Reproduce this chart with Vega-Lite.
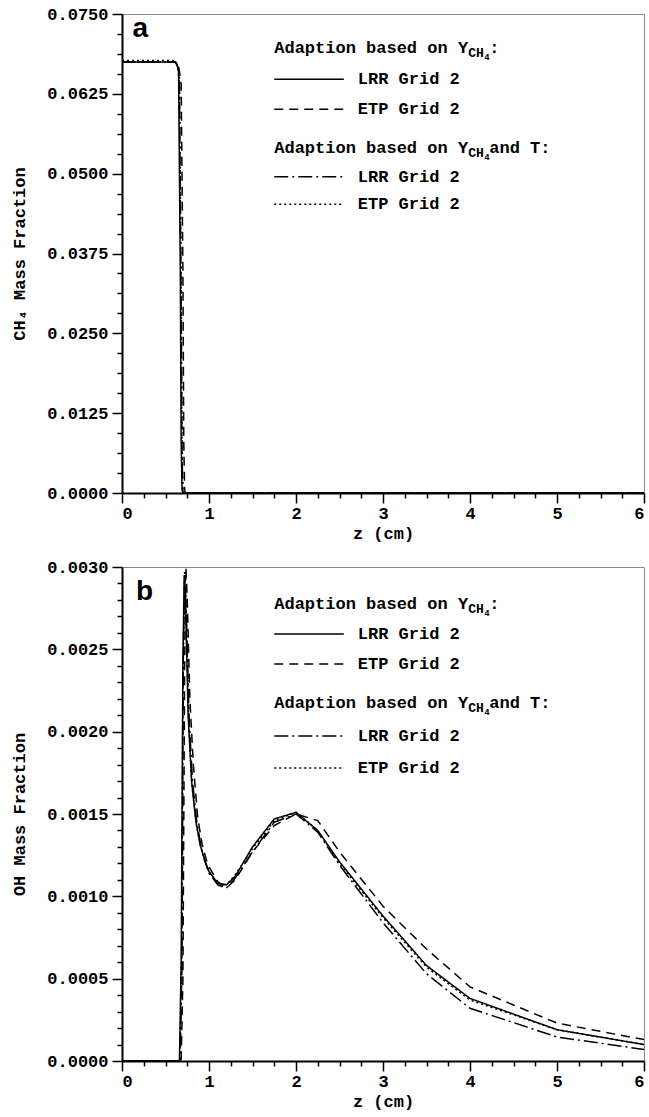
{
  "$schema": "https://vega.github.io/schema/vega-lite/v6.json",
  "padding": {"left": 10, "top": 4, "right": 2, "bottom": 2},
  "background": "white",
  "spacing": 15,
  "config": {
    "view": {"stroke": "#8a8a8a", "strokeWidth": 1},
    "text": {"font": "Liberation Mono", "fontWeight": "bold", "color": "black"},
    "axis": {
      "grid": false,
      "labelFont": "Liberation Mono", "labelFontWeight": "bold", "labelFontSize": 17, "labelColor": "black",
      "titleFont": "Liberation Mono", "titleFontWeight": "bold", "titleFontSize": 17, "titleColor": "black",
      "domainColor": "black", "domainWidth": 2, "tickColor": "black", "tickWidth": 1.5
    }
  },
  "datasets": {
    "ch4": [
      {"s": "LRR_Y", "z": 0, "v": 0.0675}, {"s": "LRR_Y", "z": 0.6, "v": 0.0675}, {"s": "LRR_Y", "z": 0.63, "v": 0.0672}, {"s": "LRR_Y", "z": 0.65, "v": 0.066}, {"s": "LRR_Y", "z": 0.67, "v": 0.035}, {"s": "LRR_Y", "z": 0.68, "v": 0.008}, {"s": "LRR_Y", "z": 0.69, "v": 0.0005}, {"s": "LRR_Y", "z": 0.7, "v": 0}, {"s": "LRR_Y", "z": 6, "v": 0},
      {"s": "ETP_Y", "z": 0, "v": 0.0675}, {"s": "ETP_Y", "z": 0.62, "v": 0.0675}, {"s": "ETP_Y", "z": 0.65, "v": 0.067}, {"s": "ETP_Y", "z": 0.68, "v": 0.064}, {"s": "ETP_Y", "z": 0.7, "v": 0.035}, {"s": "ETP_Y", "z": 0.71, "v": 0.008}, {"s": "ETP_Y", "z": 0.72, "v": 0.0004}, {"s": "ETP_Y", "z": 0.73, "v": 0}, {"s": "ETP_Y", "z": 6, "v": 0},
      {"s": "LRR_YT", "z": 0, "v": 0.0675}, {"s": "LRR_YT", "z": 0.61, "v": 0.0675}, {"s": "LRR_YT", "z": 0.64, "v": 0.0668}, {"s": "LRR_YT", "z": 0.66, "v": 0.064}, {"s": "LRR_YT", "z": 0.68, "v": 0.03}, {"s": "LRR_YT", "z": 0.69, "v": 0.006}, {"s": "LRR_YT", "z": 0.7, "v": 0}, {"s": "LRR_YT", "z": 6, "v": 0},
      {"s": "ETP_YT", "z": 0, "v": 0.0677}, {"s": "ETP_YT", "z": 0.61, "v": 0.0677}, {"s": "ETP_YT", "z": 0.64, "v": 0.067}, {"s": "ETP_YT", "z": 0.66, "v": 0.065}, {"s": "ETP_YT", "z": 0.68, "v": 0.032}, {"s": "ETP_YT", "z": 0.69, "v": 0.006}, {"s": "ETP_YT", "z": 0.7, "v": 0}, {"s": "ETP_YT", "z": 6, "v": 0}
    ],
    "oh": [
      {"s": "LRR_Y", "z": 0, "v": 0}, {"s": "LRR_Y", "z": 0.66, "v": 0}, {"s": "LRR_Y", "z": 0.68, "v": 0.0006}, {"s": "LRR_Y", "z": 0.7, "v": 0.0024}, {"s": "LRR_Y", "z": 0.715, "v": 0.00295}, {"s": "LRR_Y", "z": 0.73, "v": 0.0028}, {"s": "LRR_Y", "z": 0.76, "v": 0.0021}, {"s": "LRR_Y", "z": 0.8, "v": 0.0017}, {"s": "LRR_Y", "z": 0.85, "v": 0.00145}, {"s": "LRR_Y", "z": 0.9, "v": 0.00131}, {"s": "LRR_Y", "z": 0.95, "v": 0.00122}, {"s": "LRR_Y", "z": 1.0, "v": 0.00115}, {"s": "LRR_Y", "z": 1.1, "v": 0.00108}, {"s": "LRR_Y", "z": 1.2, "v": 0.00107}, {"s": "LRR_Y", "z": 1.3, "v": 0.00112}, {"s": "LRR_Y", "z": 1.5, "v": 0.0013}, {"s": "LRR_Y", "z": 1.75, "v": 0.00147}, {"s": "LRR_Y", "z": 2.0, "v": 0.00151}, {"s": "LRR_Y", "z": 2.25, "v": 0.0014}, {"s": "LRR_Y", "z": 2.5, "v": 0.00121}, {"s": "LRR_Y", "z": 3.0, "v": 0.00088}, {"s": "LRR_Y", "z": 3.5, "v": 0.00058}, {"s": "LRR_Y", "z": 4.0, "v": 0.00038}, {"s": "LRR_Y", "z": 5.0, "v": 0.00019}, {"s": "LRR_Y", "z": 6.0, "v": 0.0001},
      {"s": "ETP_Y", "z": 0, "v": 0}, {"s": "ETP_Y", "z": 0.68, "v": 0}, {"s": "ETP_Y", "z": 0.7, "v": 0.0005}, {"s": "ETP_Y", "z": 0.72, "v": 0.0024}, {"s": "ETP_Y", "z": 0.735, "v": 0.003}, {"s": "ETP_Y", "z": 0.75, "v": 0.0028}, {"s": "ETP_Y", "z": 0.78, "v": 0.0022}, {"s": "ETP_Y", "z": 0.82, "v": 0.0018}, {"s": "ETP_Y", "z": 0.87, "v": 0.00148}, {"s": "ETP_Y", "z": 0.92, "v": 0.00132}, {"s": "ETP_Y", "z": 0.97, "v": 0.00122}, {"s": "ETP_Y", "z": 1.0, "v": 0.00118}, {"s": "ETP_Y", "z": 1.1, "v": 0.00109}, {"s": "ETP_Y", "z": 1.2, "v": 0.00105}, {"s": "ETP_Y", "z": 1.3, "v": 0.0011}, {"s": "ETP_Y", "z": 1.5, "v": 0.00127}, {"s": "ETP_Y", "z": 1.75, "v": 0.00143}, {"s": "ETP_Y", "z": 2.0, "v": 0.0015}, {"s": "ETP_Y", "z": 2.25, "v": 0.00146}, {"s": "ETP_Y", "z": 2.5, "v": 0.00127}, {"s": "ETP_Y", "z": 3.0, "v": 0.00094}, {"s": "ETP_Y", "z": 3.5, "v": 0.00068}, {"s": "ETP_Y", "z": 4.0, "v": 0.00045}, {"s": "ETP_Y", "z": 5.0, "v": 0.00023}, {"s": "ETP_Y", "z": 6.0, "v": 0.00013},
      {"s": "LRR_YT", "z": 0, "v": 0}, {"s": "LRR_YT", "z": 0.67, "v": 0}, {"s": "LRR_YT", "z": 0.69, "v": 0.0006}, {"s": "LRR_YT", "z": 0.705, "v": 0.0025}, {"s": "LRR_YT", "z": 0.72, "v": 0.00292}, {"s": "LRR_YT", "z": 0.74, "v": 0.0027}, {"s": "LRR_YT", "z": 0.77, "v": 0.0021}, {"s": "LRR_YT", "z": 0.81, "v": 0.0017}, {"s": "LRR_YT", "z": 0.86, "v": 0.00145}, {"s": "LRR_YT", "z": 0.91, "v": 0.0013}, {"s": "LRR_YT", "z": 0.96, "v": 0.0012}, {"s": "LRR_YT", "z": 1.0, "v": 0.00114}, {"s": "LRR_YT", "z": 1.1, "v": 0.00107}, {"s": "LRR_YT", "z": 1.2, "v": 0.00105}, {"s": "LRR_YT", "z": 1.3, "v": 0.00111}, {"s": "LRR_YT", "z": 1.5, "v": 0.00127}, {"s": "LRR_YT", "z": 1.75, "v": 0.00145}, {"s": "LRR_YT", "z": 2.0, "v": 0.0015}, {"s": "LRR_YT", "z": 2.25, "v": 0.00139}, {"s": "LRR_YT", "z": 2.5, "v": 0.00119}, {"s": "LRR_YT", "z": 3.0, "v": 0.00084}, {"s": "LRR_YT", "z": 3.5, "v": 0.00053}, {"s": "LRR_YT", "z": 4.0, "v": 0.00032}, {"s": "LRR_YT", "z": 5.0, "v": 0.000146}, {"s": "LRR_YT", "z": 6.0, "v": 0.00007},
      {"s": "ETP_YT", "z": 0, "v": 0}, {"s": "ETP_YT", "z": 0.665, "v": 0}, {"s": "ETP_YT", "z": 0.685, "v": 0.0006}, {"s": "ETP_YT", "z": 0.7, "v": 0.0023}, {"s": "ETP_YT", "z": 0.72, "v": 0.00297}, {"s": "ETP_YT", "z": 0.735, "v": 0.0028}, {"s": "ETP_YT", "z": 0.765, "v": 0.0021}, {"s": "ETP_YT", "z": 0.8, "v": 0.0017}, {"s": "ETP_YT", "z": 0.85, "v": 0.00145}, {"s": "ETP_YT", "z": 0.9, "v": 0.00131}, {"s": "ETP_YT", "z": 0.95, "v": 0.00122}, {"s": "ETP_YT", "z": 1.0, "v": 0.00115}, {"s": "ETP_YT", "z": 1.1, "v": 0.00108}, {"s": "ETP_YT", "z": 1.2, "v": 0.00107}, {"s": "ETP_YT", "z": 1.3, "v": 0.00113}, {"s": "ETP_YT", "z": 1.5, "v": 0.00129}, {"s": "ETP_YT", "z": 1.75, "v": 0.00146}, {"s": "ETP_YT", "z": 2.0, "v": 0.00151}, {"s": "ETP_YT", "z": 2.25, "v": 0.0014}, {"s": "ETP_YT", "z": 2.5, "v": 0.0012}, {"s": "ETP_YT", "z": 3.0, "v": 0.00087}, {"s": "ETP_YT", "z": 3.5, "v": 0.00057}, {"s": "ETP_YT", "z": 4.0, "v": 0.00037}, {"s": "ETP_YT", "z": 5.0, "v": 0.00019}, {"s": "ETP_YT", "z": 6.0, "v": 0.0001}
    ]
  },
  "vconcat": [
    {
      "width": 522, "height": 479,
      "resolve": {"axis": {"x": "independent", "y": "independent"}},
      "layer": [
        {"data": {"name": "ch4"}, "mark": {"type": "line", "color": "black", "strokeWidth": 1.5, "clip": true},
         "encoding": {
           "x": {"field": "z", "type": "quantitative", "scale": {"domain": [0, 6], "nice": false, "zero": false},
                 "axis": {"orient": "bottom", "values": [0, 1, 2, 3, 4, 5, 6], "format": "d", "tickSize": 10, "labelPadding": 2, "title": "z (cm)", "titlePadding": 4}},
           "y": {"field": "v", "type": "quantitative", "scale": {"domain": [0, 0.075], "nice": false},
                 "axis": {"orient": "left", "values": [0, 0.0125, 0.025, 0.0375, 0.05, 0.0625, 0.075], "format": ".4f", "tickSize": 10, "labelPadding": 4, "title": "CH₄ Mass Fraction", "titlePadding": 18}},
           "strokeDash": {"field": "s", "type": "nominal", "scale": {"domain": ["LRR_Y", "ETP_Y", "LRR_YT", "ETP_YT"], "range": [[1, 0], [9, 6], [14, 4, 2, 4], [2, 3]]}, "legend": null}
         }},
        {"data": {"name": "ch4"}, "mark": {"type": "point", "opacity": 0},
         "encoding": {
           "x": {"field": "z", "type": "quantitative", "axis": {"orient": "bottom", "values": [0.25, 0.5, 0.75, 1.25, 1.5, 1.75, 2.25, 2.5, 2.75, 3.25, 3.5, 3.75, 4.25, 4.5, 4.75, 5.25, 5.5, 5.75], "labels": false, "domain": false, "tickSize": 5, "title": null}},
           "y": {"field": "v", "type": "quantitative", "axis": {"orient": "left", "values": [0.003125, 0.00625, 0.009375, 0.015625, 0.01875, 0.021875, 0.028125, 0.03125, 0.034375, 0.040625, 0.04375, 0.046875, 0.053125, 0.05625, 0.059375, 0.065625, 0.06875, 0.071875], "labels": false, "domain": false, "tickSize": 5, "title": null}}
         }},
        {"data": {"values": [{}]}, "mark": {"type": "text", "font": "Liberation Sans", "fontSize": 28, "align": "left", "baseline": "alphabetic"},
         "encoding": {"x": {"datum": 0.12, "type": "quantitative", "axis": null}, "y": {"datum": 0.0714, "type": "quantitative", "axis": null}, "text": {"value": "a"}}},
        {"data": {"values": [{}]}, "mark": {"type": "text", "fontSize": 17, "align": "left", "baseline": "middle"},
         "encoding": {"x": {"datum": 1.75, "type": "quantitative", "axis": null}, "y": {"datum": 0.0697, "type": "quantitative", "axis": null}, "text": {"value": "Adaption based on Y"}}},
        {"data": {"values": [{}]}, "mark": {"type": "text", "fontSize": 13, "align": "left", "baseline": "middle", "dx": 194, "dy": 5},
         "encoding": {"x": {"datum": 1.75, "type": "quantitative", "axis": null}, "y": {"datum": 0.0697, "type": "quantitative", "axis": null}, "text": {"value": "CH"}}},
        {"data": {"values": [{}]}, "mark": {"type": "text", "fontSize": 9, "align": "left", "baseline": "middle", "dx": 210, "dy": 9},
         "encoding": {"x": {"datum": 1.75, "type": "quantitative", "axis": null}, "y": {"datum": 0.0697, "type": "quantitative", "axis": null}, "text": {"value": "4"}}},
        {"data": {"values": [{}]}, "mark": {"type": "text", "fontSize": 17, "align": "left", "baseline": "middle", "dx": 215},
         "encoding": {"x": {"datum": 1.75, "type": "quantitative", "axis": null}, "y": {"datum": 0.0697, "type": "quantitative", "axis": null}, "text": {"value": ":"}}},
        {"data": {"values": [{}]}, "mark": {"type": "rule", "color": "black", "strokeWidth": 1.5},
         "encoding": {"x": {"datum": 1.75, "type": "quantitative", "axis": null}, "x2": {"datum": 2.55}, "y": {"datum": 0.0648, "type": "quantitative", "axis": null}}},
        {"data": {"values": [{}]}, "mark": {"type": "text", "fontSize": 17, "align": "left", "baseline": "middle"},
         "encoding": {"x": {"datum": 2.71, "type": "quantitative", "axis": null}, "y": {"datum": 0.0648, "type": "quantitative", "axis": null}, "text": {"value": "LRR Grid 2"}}},
        {"data": {"values": [{}]}, "mark": {"type": "rule", "color": "black", "strokeWidth": 1.5, "strokeDash": [9, 6]},
         "encoding": {"x": {"datum": 1.75, "type": "quantitative", "axis": null}, "x2": {"datum": 2.55}, "y": {"datum": 0.0601, "type": "quantitative", "axis": null}}},
        {"data": {"values": [{}]}, "mark": {"type": "text", "fontSize": 17, "align": "left", "baseline": "middle"},
         "encoding": {"x": {"datum": 2.71, "type": "quantitative", "axis": null}, "y": {"datum": 0.0601, "type": "quantitative", "axis": null}, "text": {"value": "ETP Grid 2"}}},
        {"data": {"values": [{}]}, "mark": {"type": "text", "fontSize": 17, "align": "left", "baseline": "middle"},
         "encoding": {"x": {"datum": 1.75, "type": "quantitative", "axis": null}, "y": {"datum": 0.054, "type": "quantitative", "axis": null}, "text": {"value": "Adaption based on Y"}}},
        {"data": {"values": [{}]}, "mark": {"type": "text", "fontSize": 13, "align": "left", "baseline": "middle", "dx": 194, "dy": 5},
         "encoding": {"x": {"datum": 1.75, "type": "quantitative", "axis": null}, "y": {"datum": 0.054, "type": "quantitative", "axis": null}, "text": {"value": "CH"}}},
        {"data": {"values": [{}]}, "mark": {"type": "text", "fontSize": 9, "align": "left", "baseline": "middle", "dx": 210, "dy": 9},
         "encoding": {"x": {"datum": 1.75, "type": "quantitative", "axis": null}, "y": {"datum": 0.054, "type": "quantitative", "axis": null}, "text": {"value": "4"}}},
        {"data": {"values": [{}]}, "mark": {"type": "text", "fontSize": 17, "align": "left", "baseline": "middle", "dx": 215},
         "encoding": {"x": {"datum": 1.75, "type": "quantitative", "axis": null}, "y": {"datum": 0.054, "type": "quantitative", "axis": null}, "text": {"value": "and T:"}}},
        {"data": {"values": [{}]}, "mark": {"type": "rule", "color": "black", "strokeWidth": 1.5, "strokeDash": [14, 4, 2, 4]},
         "encoding": {"x": {"datum": 1.75, "type": "quantitative", "axis": null}, "x2": {"datum": 2.55}, "y": {"datum": 0.0495, "type": "quantitative", "axis": null}}},
        {"data": {"values": [{}]}, "mark": {"type": "text", "fontSize": 17, "align": "left", "baseline": "middle"},
         "encoding": {"x": {"datum": 2.71, "type": "quantitative", "axis": null}, "y": {"datum": 0.0495, "type": "quantitative", "axis": null}, "text": {"value": "LRR Grid 2"}}},
        {"data": {"values": [{}]}, "mark": {"type": "rule", "color": "black", "strokeWidth": 1.5, "strokeDash": [2, 3]},
         "encoding": {"x": {"datum": 1.75, "type": "quantitative", "axis": null}, "x2": {"datum": 2.55}, "y": {"datum": 0.0452, "type": "quantitative", "axis": null}}},
        {"data": {"values": [{}]}, "mark": {"type": "text", "fontSize": 17, "align": "left", "baseline": "middle"},
         "encoding": {"x": {"datum": 2.71, "type": "quantitative", "axis": null}, "y": {"datum": 0.0452, "type": "quantitative", "axis": null}, "text": {"value": "ETP Grid 2"}}}
      ]
    },
    {
      "width": 522, "height": 494,
      "resolve": {"axis": {"x": "independent", "y": "independent"}},
      "layer": [
        {"data": {"name": "oh"}, "mark": {"type": "line", "color": "black", "strokeWidth": 1.5, "clip": true},
         "encoding": {
           "x": {"field": "z", "type": "quantitative", "scale": {"domain": [0, 6], "nice": false, "zero": false},
                 "axis": {"orient": "bottom", "values": [0, 1, 2, 3, 4, 5, 6], "format": "d", "tickSize": 10, "labelPadding": 2, "title": "z (cm)", "titlePadding": 4}},
           "y": {"field": "v", "type": "quantitative", "scale": {"domain": [0, 0.003], "nice": false},
                 "axis": {"orient": "left", "values": [0, 0.0005, 0.001, 0.0015, 0.002, 0.0025, 0.003], "format": ".4f", "tickSize": 10, "labelPadding": 4, "title": "OH Mass Fraction", "titlePadding": 18}},
           "strokeDash": {"field": "s", "type": "nominal", "scale": {"domain": ["LRR_Y", "ETP_Y", "LRR_YT", "ETP_YT"], "range": [[1, 0], [9, 6], [14, 4, 2, 4], [2, 3]]}, "legend": null}
         }},
        {"data": {"name": "oh"}, "mark": {"type": "point", "opacity": 0},
         "encoding": {
           "x": {"field": "z", "type": "quantitative", "axis": {"orient": "bottom", "values": [0.25, 0.5, 0.75, 1.25, 1.5, 1.75, 2.25, 2.5, 2.75, 3.25, 3.5, 3.75, 4.25, 4.5, 4.75, 5.25, 5.5, 5.75], "labels": false, "domain": false, "tickSize": 5, "title": null}},
           "y": {"field": "v", "type": "quantitative", "axis": {"orient": "left", "values": [0.0001, 0.0002, 0.0003, 0.0004, 0.0006, 0.0007, 0.0008, 0.0009, 0.0011, 0.0012, 0.0013, 0.0014, 0.0016, 0.0017, 0.0018, 0.0019, 0.0021, 0.0022, 0.0023, 0.0024, 0.0026, 0.0027, 0.0028, 0.0029], "labels": false, "domain": false, "tickSize": 5, "title": null}}
         }},
        {"data": {"values": [{}]}, "mark": {"type": "text", "font": "Liberation Sans", "fontSize": 28, "align": "left", "baseline": "alphabetic"},
         "encoding": {"x": {"datum": 0.16, "type": "quantitative", "axis": null}, "y": {"datum": 0.0028, "type": "quantitative", "axis": null}, "text": {"value": "b"}}},
        {"data": {"values": [{}]}, "mark": {"type": "text", "fontSize": 17, "align": "left", "baseline": "middle"},
         "encoding": {"x": {"datum": 1.75, "type": "quantitative", "axis": null}, "y": {"datum": 0.002775, "type": "quantitative", "axis": null}, "text": {"value": "Adaption based on Y"}}},
        {"data": {"values": [{}]}, "mark": {"type": "text", "fontSize": 13, "align": "left", "baseline": "middle", "dx": 194, "dy": 5},
         "encoding": {"x": {"datum": 1.75, "type": "quantitative", "axis": null}, "y": {"datum": 0.002775, "type": "quantitative", "axis": null}, "text": {"value": "CH"}}},
        {"data": {"values": [{}]}, "mark": {"type": "text", "fontSize": 9, "align": "left", "baseline": "middle", "dx": 210, "dy": 9},
         "encoding": {"x": {"datum": 1.75, "type": "quantitative", "axis": null}, "y": {"datum": 0.002775, "type": "quantitative", "axis": null}, "text": {"value": "4"}}},
        {"data": {"values": [{}]}, "mark": {"type": "text", "fontSize": 17, "align": "left", "baseline": "middle", "dx": 215},
         "encoding": {"x": {"datum": 1.75, "type": "quantitative", "axis": null}, "y": {"datum": 0.002775, "type": "quantitative", "axis": null}, "text": {"value": ":"}}},
        {"data": {"values": [{}]}, "mark": {"type": "rule", "color": "black", "strokeWidth": 1.5},
         "encoding": {"x": {"datum": 1.75, "type": "quantitative", "axis": null}, "x2": {"datum": 2.55}, "y": {"datum": 0.002593, "type": "quantitative", "axis": null}}},
        {"data": {"values": [{}]}, "mark": {"type": "text", "fontSize": 17, "align": "left", "baseline": "middle"},
         "encoding": {"x": {"datum": 2.71, "type": "quantitative", "axis": null}, "y": {"datum": 0.002593, "type": "quantitative", "axis": null}, "text": {"value": "LRR Grid 2"}}},
        {"data": {"values": [{}]}, "mark": {"type": "rule", "color": "black", "strokeWidth": 1.5, "strokeDash": [9, 6]},
         "encoding": {"x": {"datum": 1.75, "type": "quantitative", "axis": null}, "x2": {"datum": 2.55}, "y": {"datum": 0.002411, "type": "quantitative", "axis": null}}},
        {"data": {"values": [{}]}, "mark": {"type": "text", "fontSize": 17, "align": "left", "baseline": "middle"},
         "encoding": {"x": {"datum": 2.71, "type": "quantitative", "axis": null}, "y": {"datum": 0.002411, "type": "quantitative", "axis": null}, "text": {"value": "ETP Grid 2"}}},
        {"data": {"values": [{}]}, "mark": {"type": "text", "fontSize": 17, "align": "left", "baseline": "middle"},
         "encoding": {"x": {"datum": 1.75, "type": "quantitative", "axis": null}, "y": {"datum": 0.002174, "type": "quantitative", "axis": null}, "text": {"value": "Adaption based on Y"}}},
        {"data": {"values": [{}]}, "mark": {"type": "text", "fontSize": 13, "align": "left", "baseline": "middle", "dx": 194, "dy": 5},
         "encoding": {"x": {"datum": 1.75, "type": "quantitative", "axis": null}, "y": {"datum": 0.002174, "type": "quantitative", "axis": null}, "text": {"value": "CH"}}},
        {"data": {"values": [{}]}, "mark": {"type": "text", "fontSize": 9, "align": "left", "baseline": "middle", "dx": 210, "dy": 9},
         "encoding": {"x": {"datum": 1.75, "type": "quantitative", "axis": null}, "y": {"datum": 0.002174, "type": "quantitative", "axis": null}, "text": {"value": "4"}}},
        {"data": {"values": [{}]}, "mark": {"type": "text", "fontSize": 17, "align": "left", "baseline": "middle", "dx": 215},
         "encoding": {"x": {"datum": 1.75, "type": "quantitative", "axis": null}, "y": {"datum": 0.002174, "type": "quantitative", "axis": null}, "text": {"value": "and T:"}}},
        {"data": {"values": [{}]}, "mark": {"type": "rule", "color": "black", "strokeWidth": 1.5, "strokeDash": [14, 4, 2, 4]},
         "encoding": {"x": {"datum": 1.75, "type": "quantitative", "axis": null}, "x2": {"datum": 2.55}, "y": {"datum": 0.001974, "type": "quantitative", "axis": null}}},
        {"data": {"values": [{}]}, "mark": {"type": "text", "fontSize": 17, "align": "left", "baseline": "middle"},
         "encoding": {"x": {"datum": 2.71, "type": "quantitative", "axis": null}, "y": {"datum": 0.001974, "type": "quantitative", "axis": null}, "text": {"value": "LRR Grid 2"}}},
        {"data": {"values": [{}]}, "mark": {"type": "rule", "color": "black", "strokeWidth": 1.5, "strokeDash": [2, 3]},
         "encoding": {"x": {"datum": 1.75, "type": "quantitative", "axis": null}, "x2": {"datum": 2.55}, "y": {"datum": 0.001779, "type": "quantitative", "axis": null}}},
        {"data": {"values": [{}]}, "mark": {"type": "text", "fontSize": 17, "align": "left", "baseline": "middle"},
         "encoding": {"x": {"datum": 2.71, "type": "quantitative", "axis": null}, "y": {"datum": 0.001779, "type": "quantitative", "axis": null}, "text": {"value": "ETP Grid 2"}}}
      ]
    }
  ]
}
